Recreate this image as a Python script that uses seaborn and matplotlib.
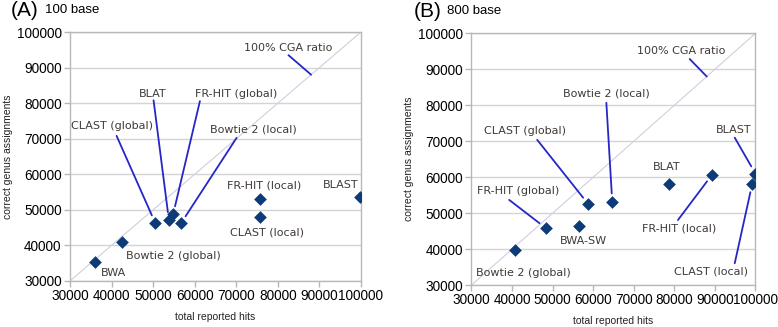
import matplotlib
matplotlib.use("Agg")
import matplotlib.pyplot as plt
import seaborn as sns
import pandas as pd

# ---- Data: panel A (100 base) ----
a_tools = ["BWA", "Bowtie 2 (global)", "CLAST (global)", "BLAT", "FR-HIT (global)",
           "Bowtie 2 (local)", "FR-HIT (local)", "CLAST (local)", "BLAST"]
a_hits = [36000, 42500, 50500, 53800, 54800, 56700, 75700, 75800, 99800]
a_correct = [35200, 41000, 46300, 47000, 48700, 46200, 53000, 48000, 53600]
# label text positions (data coords) and optional leader-line start
a_lab_x = [40400, 54900, 40100, 50000, 69900, 74150, 76750, 77300, 95000]
a_lab_y = [32300, 36900, 73500, 82700, 82700, 72700, 56900, 43750, 57100]
a_line_x = [None, None, 41200, 50100, 61250, 70070, None, None, None]
a_line_y = [None, None, 70800, 80800, 80560, 70230, None, None, None]

# ---- Data: panel B (800 base) ----
b_tools = ["Bowtie 2 (global)", "FR-HIT (global)", "BWA-SW", "CLAST (global)",
           "Bowtie 2 (local)", "BLAT", "FR-HIT (local)", "CLAST (local)", "BLAST"]
b_hits = [40700, 48400, 56400, 58800, 64700, 78700, 89300, 99200, 100000]
b_correct = [39800, 45800, 46400, 52500, 53200, 58000, 60700, 58100, 61000]
b_lab_x = [42900, 41600, 57600, 43200, 63200, 78000, 81300, 89100, 94650]
b_lab_y = [33500, 56300, 42300, 72900, 83300, 62950, 45800, 33800, 73100]
b_line_x = [None, 39300, None, 46200, 63250, None, 80900, 94900, 94900]
b_line_y = [None, 53700, None, 70400, 80700, None, 48100, 36100, 71000]

ratio_label = "100% CGA ratio"
a_ratio_lab = (82400, 95600, 82550, 93500)
b_ratio_lab = (81700, 95200, 83800, 92860)
ratio_end = 88000

ticks = [30000, 40000, 50000, 60000, 70000, 80000, 90000, 100000]

sns.set_style("white")
plt.rcParams["font.family"] = ["Liberation Sans", "DejaVu Sans"]

fig = plt.figure(figsize=(7.78, 3.27), dpi=100)
axA = fig.add_axes([0.090, 0.141, 0.374, 0.761])
axB = fig.add_axes([0.606, 0.128, 0.365, 0.770])

marker_color = "#0d3b78"
line_color = "#2626c8"
text_color = "#403a36"


def draw(ax, tools, hits, correct, lx, ly, sx, sy, ratio_lab, letter, base):
    df = pd.DataFrame({"hits": hits, "correct": correct, "tool": tools})
    # diagonal 100% line
    ax.plot([30000, 100000], [30000, 100000], color="#cfcfdf", lw=0.8, zorder=1)
    sns.scatterplot(data=df, x="hits", y="correct", ax=ax, marker="D", s=42,
                    color=marker_color, edgecolor=marker_color, linewidth=0, zorder=5)
    for t, h, c, x, y, x0, y0 in zip(tools, hits, correct, lx, ly, sx, sy):
        ax.text(x, y, t, ha="center", va="center", fontsize=8, color=text_color,
                family="DejaVu Sans", zorder=6)
        if x0 is not None:
            ax.annotate("", xy=(h, c), xytext=(x0, y0),
                        arrowprops=dict(arrowstyle="-", color=line_color, lw=1.3,
                                        shrinkA=0, shrinkB=6), zorder=4)
    tx, ty, x0, y0 = ratio_lab
    ax.text(tx, ty, ratio_label, ha="center", va="center", fontsize=8,
            color=text_color, family="DejaVu Sans")
    ax.annotate("", xy=(ratio_end, ratio_end), xytext=(x0, y0),
                arrowprops=dict(arrowstyle="-", color=line_color, lw=1.3,
                                shrinkA=0, shrinkB=0))
    ax.set_xlim(30000, 100000)
    ax.set_ylim(30000, 100000)
    ax.set_xticks(ticks)
    ax.set_yticks(ticks)
    ax.set_xticklabels([str(t) for t in ticks])
    ax.set_yticklabels([str(t) for t in ticks])
    ax.grid(axis="y", color="#d4d4d4", lw=1.0)
    ax.grid(axis="x", visible=False)
    ax.set_axisbelow(True)
    for sp in ax.spines.values():
        sp.set_color("#b8b8b8")
        sp.set_linewidth(1.0)
    ax.tick_params(axis="both", which="major", labelsize=9.8, colors="#b8b8b8",
                   labelcolor="black", length=4, width=1, direction="out",
                   bottom=True, left=True, pad=2)
    ax.set_xlabel("total reported hits", fontsize=7.5, color="#222222", labelpad=6)
    ax.set_ylabel("correct genus assignments", fontsize=7.5, color="#222222", labelpad=3)
    ax.text(-0.205, 1.05, letter, transform=ax.transAxes, fontsize=15, ha="left",
            va="bottom", color="black")
    ax.text(-0.085, 1.065, base, transform=ax.transAxes, fontsize=9.5, ha="left",
            va="bottom", color="black")


draw(axA, a_tools, a_hits, a_correct, a_lab_x, a_lab_y, a_line_x, a_line_y,
     a_ratio_lab, "(A)", "100 base")
draw(axB, b_tools, b_hits, b_correct, b_lab_x, b_lab_y, b_line_x, b_line_y,
     b_ratio_lab, "(B)", "800 base")

fig.savefig("out.png", dpi=100)
